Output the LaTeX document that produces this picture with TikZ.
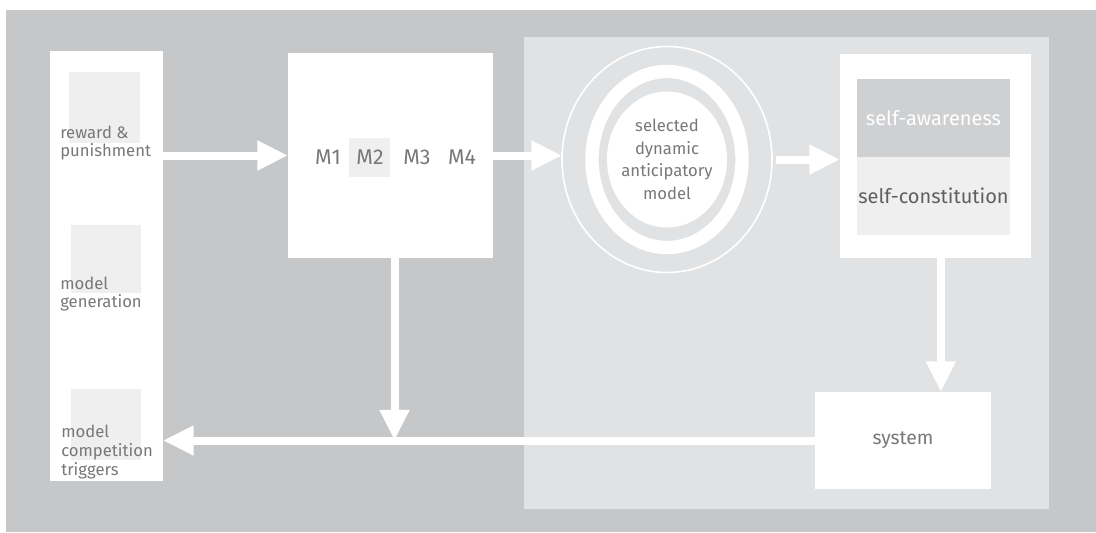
\documentclass[tikz,border=0pt]{standalone}
\usepackage{fontspec}
\setmainfont{Fira Sans}
\usetikzlibrary{arrows.meta,shapes.geometric}

\definecolor{bggray}{HTML}{C6C7C9}
\definecolor{panelgray}{HTML}{E1E2E4}
\definecolor{softgray}{HTML}{EEEFEE}
\definecolor{awaregray}{HTML}{CFD0D2}
\definecolor{txtgray}{HTML}{77787A}
\definecolor{darktxt}{HTML}{5E5F61}

\tikzset{
  block/.style={fill=white, inner sep=0pt, outer sep=0pt},
  flow/.style={-{Triangle[length=23pt,width=21pt]}, white, line width=6pt},
  lbl/.style={text=txtgray, font=\fontsize{12.5}{14}\selectfont, align=left, anchor=west, inner sep=0pt},
}

\begin{document}
\begin{tikzpicture}[x=0.75pt, y=-0.75pt]
    \def\u{0.75pt}

    % =================================================================
    % NỀN
    % =================================================================
    \useasboundingbox (0,0) rectangle (1096,532);
    \fill[white] (0,0) rectangle (1096,532);
    \fill[bggray] (6,10) rectangle (1096,532);
    \fill[panelgray] (524,37) rectangle (1049,509);

    % =================================================================
    % CỘT BÊN TRÁI
    % =================================================================
    \node[block, minimum width=113*\u, minimum height=430*\u] (col) at (106.5,266) {};
    \fill[softgray] (69,72) rectangle (140,143);
    \fill[softgray] (71,225) rectangle (141,293);
    \fill[softgray] (71,389) rectangle (141,460);
    \node[lbl] (reward) at (60,143) {reward \&\\punishment};
    \node[lbl] (gen) at (60,294) {model\\generation};
    \node[lbl] (trig) at (61,452) {model\\competition\\triggers};

    % =================================================================
    % HỘP MÔ HÌNH
    % =================================================================
    \node[block, minimum width=205*\u, minimum height=205*\u] (models) at (390.5,155.5) {};
    \fill[softgray] (349,138) rectangle (390,177);
    \foreach \m/\xm in {1/328, 2/370, 3/417, 4/462}
        \node[text=txtgray, font=\fontsize{16}{18}\selectfont] (m\m) at (\xm,157) {M\m};

    % =================================================================
    % MÔ HÌNH ĐƯỢC CHỌN
    % =================================================================
    \coordinate (selc) at (667,159.5);
    \draw[white, line width=10pt] (selc) ellipse [x radius=75, y radius=88];
    \fill[white] (selc) ellipse [x radius=60, y radius=68];
    \node[ellipse, draw=white, line width=1.2pt, minimum width=210*\u, minimum height=226*\u,
          inner sep=0pt, outer sep=0pt, text=txtgray, align=center,
          font=\fontsize{12.5}{17}\selectfont] (sel) at (selc) {selected\\dynamic\\anticipatory\\model};

    % =================================================================
    % TỰ NHẬN THỨC
    % =================================================================
    \node[block, minimum width=191*\u, minimum height=204*\u] (selfbox) at (935.5,156) {};
    \node[fill=awaregray, minimum width=153*\u, minimum height=78*\u, inner sep=0pt,
          text=white, font=\fontsize{15}{17}\selectfont] (aware) at (933.5,118) {self-awareness};
    \node[fill=softgray, minimum width=153*\u, minimum height=78*\u, inner sep=0pt,
          text=darktxt, font=\fontsize{15}{17}\selectfont] (constit) at (933.5,196) {self-constitution};

    % Hệ thống
    \node[block, minimum width=176*\u, minimum height=97*\u, text=txtgray,
          font=\fontsize{14.5}{16}\selectfont] (sys) at (903,440.5) {system};

    % =================================================================
    % MŨI TÊN
    % =================================================================
    \coordinate (drop) at ([xshift=3pt]models.south);
    \coordinate (down) at ([xshift=4pt]selfbox.south);
    \draw[flow] (col.east |- models.west) -- (models.west);
    \draw[flow] (models.east) -- (sel.west |- models.east);
    \draw[flow] ([xshift=3pt]sel.east) -- (selfbox.west |- sel.east);
    \draw[flow] (down) -- (down |- sys.north);
    \draw[flow] (sys.west) -- (col.east |- sys.west);
    \draw[flow] (drop) -- (drop |- sys.west);

\end{tikzpicture}
\end{document}
